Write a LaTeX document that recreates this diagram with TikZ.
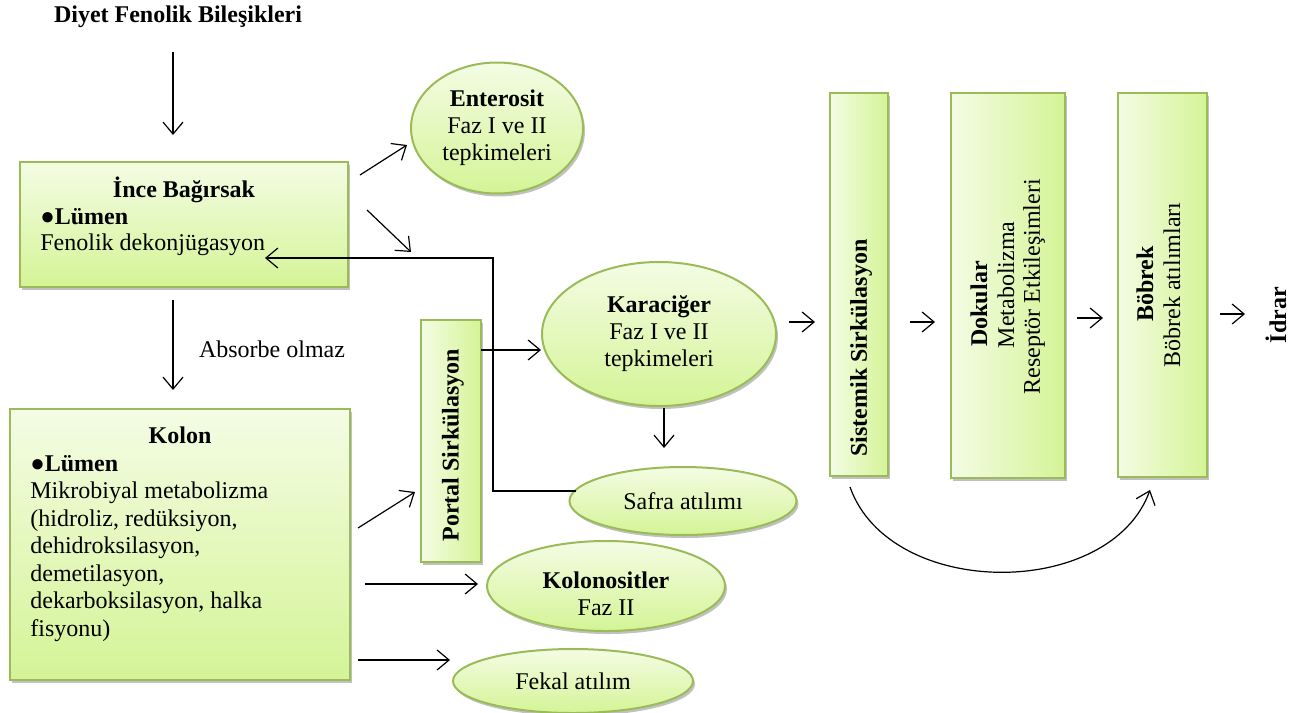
\documentclass[tikz,border=0pt]{standalone}
\usepackage{fontspec}
\setmainfont{Liberation Serif}
\usetikzlibrary{arrows.meta,shapes.geometric,shadows}
\definecolor{lg}{RGB}{244,252,228}
\definecolor{dg}{RGB}{212,244,150}
\definecolor{bgreen}{RGB}{155,187,89}
\tikzset{
  nf/.style={font=\fontsize{12}{13.5}\selectfont},
  bf/.style={font=\fontsize{12}{13.5}\selectfont\bfseries},
  shad/.style={drop shadow={shadow xshift=1pt,shadow yshift=-1.5pt,opacity=0.35,fill=black!70}},
  box/.style={rectangle,draw=bgreen,line width=1pt,top color=lg,bottom color=dg,inner sep=0pt,shad},
  vbox/.style={rectangle,draw=bgreen,line width=1pt,left color=lg,right color=dg,inner sep=0pt,shad},
  ell/.style={ellipse,draw=bgreen,line width=1pt,top color=lg,bottom color=dg,inner sep=0pt,align=center,shad},
  arr/.style={-{Straight Barb[length=6pt,width=10pt]},line width=0.6pt},
  txt/.style={inner sep=0pt,anchor=base west},
  ctxt/.style={inner sep=0pt,anchor=base},
  rtxt/.style={inner sep=0pt,rotate=90,anchor=center},
}
\begin{document}
\begin{tikzpicture}[x=0.5pt,y=-0.5pt,nf]
\useasboundingbox (0,0) rectangle (1294,712);
% title
\node[inner sep=0pt,bf] (title) at (178,17) {Diyet Fenolik Bileşikleri};
% boxes
\node[box,minimum width=164pt,minimum height=62.5pt] (ince) at (184,224.5) {};
\node[ctxt,bf] (inceT) at (184,197) {İnce Bağırsak};
\node[txt,bf] (inceL) at (40,224) {●Lümen};
\node[txt] (inceF) at (40,250) {Fenolik dekonjügasyon};

\node[box,minimum width=170pt,minimum height=135.5pt] (kolon) at (180,544.5) {};
\node[ctxt,bf] (kolonT) at (180,443) {Kolon};
\node[txt,bf] (kolonL) at (30,471) {●Lümen};
\node[txt] (k1) at (30,498) {Mikrobiyal metabolizma};
\node[txt] (k2) at (30,526) {(hidroliz, redüksiyon,};
\node[txt] (k3) at (30,553) {dehidroksilasyon,};
\node[txt] (k4) at (30,581) {demetilasyon,};
\node[txt] (k5) at (30,608) {dekarboksilasyon, halka};
\node[txt] (k6) at (30,636) {fisyonu)};

\node[vbox,minimum width=30pt,minimum height=121pt] (portal) at (451,441) {};
\node[rtxt,bf] (portalT) at (453,445) {Portal Sirkülasyon};

\node[vbox,minimum width=29pt,minimum height=191.5pt] (sist) at (859,284.5) {};
\node[rtxt,bf] (sistT) at (861,348) {Sistemik Sirkülasyon};

\node[vbox,minimum width=57pt,minimum height=192.5pt] (dok) at (1008,285.5) {};
\node[rtxt,bf] (dok1) at (979,304) {Dokular};
\node[rtxt] (dok2) at (1006,285) {Metabolizma};
\node[rtxt] (dok3) at (1034,287) {Reseptör Etkileşimleri};

\node[vbox,minimum width=44.5pt,minimum height=192pt] (bob) at (1162.5,285) {};
\node[rtxt,bf] (bob1) at (1145,284) {Böbrek};
\node[rtxt] (bob2) at (1172,285) {Böbrek atılımları};

\node[rtxt,bf] (idrar) at (1276,315) {İdrar};

% ellipses
\node[ell,minimum width=86pt,minimum height=65.5pt] (ent) at (497,128) {\textbf{Enterosit}\\Faz I ve II\\tepkimeleri};
\node[ell,minimum width=117pt,minimum height=72pt] (kar) at (659,334) {\textbf{Karaciğer}\\Faz I ve II\\tepkimeleri};
\node[ell,minimum width=113.5pt,minimum height=34pt] (safra) at (683,501) {Safra atılımı};
\node[ell,minimum width=119pt,minimum height=45pt] (kols) at (606,586) {};
\node[inner sep=0pt,align=center] (kolsT) at (606,594) {\textbf{Kolonositler}\\Faz II};
\node[ell,minimum width=120pt,minimum height=32pt] (fekal) at (573,681) {Fekal atılım};

\node[inner sep=0pt] (abs) at (272,349) {Absorbe olmaz};

% coordinates
\coordinate (a1s) at (173,52);   \coordinate (a1e) at (173,135);
\coordinate (a2s) at (173,300);  \coordinate (a2e) at (173,390);
\coordinate (a3s) at (360,175);  \coordinate (a3e) at (407,145);
\coordinate (a4s) at (367,210);  \coordinate (a4e) at (411,252);
\coordinate (sf1) at (576,491);  \coordinate (sf2) at (493,491);
\coordinate (sf3) at (493,258);  \coordinate (sf4) at (265,258);
\coordinate (a6s) at (481,350);  \coordinate (a6e) at (541,350);
\coordinate (a7s) at (664,408);  \coordinate (a7e) at (664,448);
\coordinate (a8s) at (358,528);  \coordinate (a8e) at (415,492);
\coordinate (a9s) at (365,584);  \coordinate (a9e) at (478,584);
\coordinate (a10s) at (358,660); \coordinate (a10e) at (450,660);
\coordinate (a11s) at (789,322); \coordinate (a11e) at (815,322);
\coordinate (a12s) at (910,322); \coordinate (a12e) at (935,322);
\coordinate (a13s) at (1077,318); \coordinate (a13e) at (1103,318);
\coordinate (a14s) at (1220,314); \coordinate (a14e) at (1245,314);
\coordinate (cs) at (850,487);   \coordinate (ce) at (1150,490);

\draw[arr] (a1s) -- (a1e);
\draw[arr] (a2s) -- (a2e);
\draw[arr] (a3s) -- (a3e);
\draw[arr] (a4s) -- (a4e);
\draw[arr] (sf1) -- (sf2) -- (sf3) -- (sf4);
\draw[arr] (a6s) -- (a6e);
\draw[arr] (a7s) -- (a7e);
\draw[arr] (a8s) -- (a8e);
\draw[arr] (a9s) -- (a9e);
\draw[arr] (a10s) -- (a10e);
\draw[arr] (a11s) -- (a11e);
\draw[arr] (a12s) -- (a12e);
\draw[arr] (a13s) -- (a13e);
\draw[arr] (a14s) -- (a14e);
\draw[arr] (cs) .. controls (890,600) and (1110,600) .. (ce);
\end{tikzpicture}
\end{document}
